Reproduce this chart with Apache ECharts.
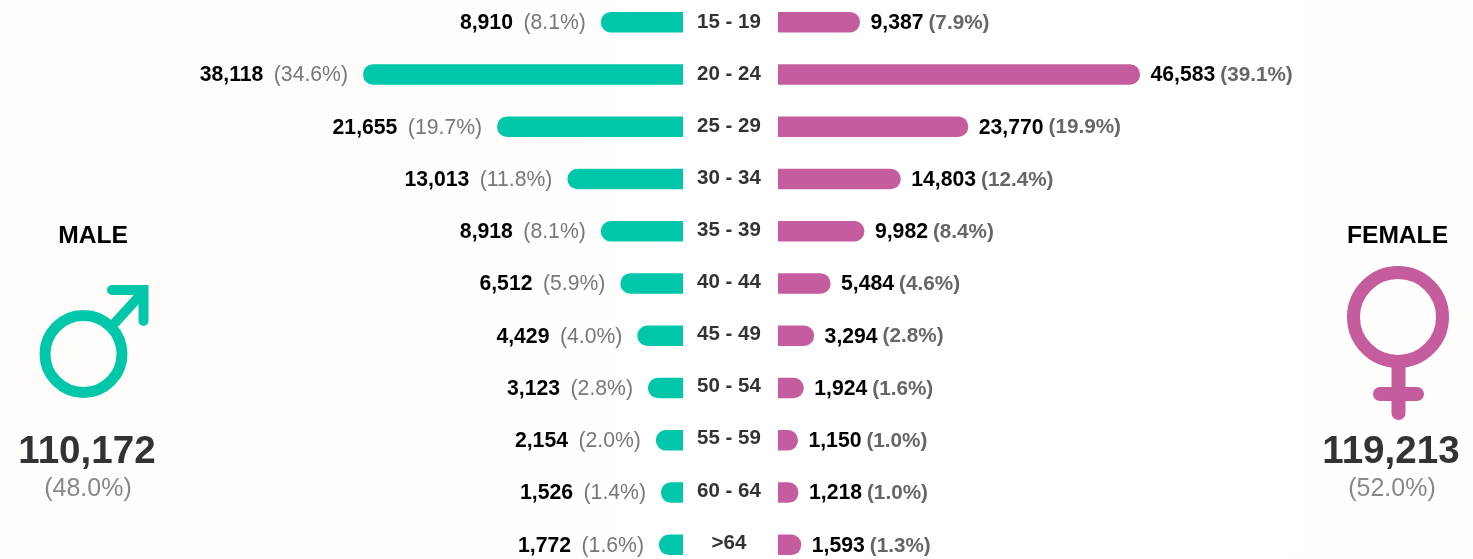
<!DOCTYPE html>
<html><head><meta charset="utf-8">
<style>html,body{margin:0;padding:0;width:1473px;height:559px;overflow:hidden;background:#fff}#c{width:1473px;height:559px}</style>
<script src="https://cdn.jsdelivr.net/npm/echarts@6/dist/echarts.min.js"></script>
</head><body><div id="c"></div>
<script>
const ages = ['15 - 19','20 - 24','25 - 29','30 - 34','35 - 39','40 - 44','45 - 49','50 - 54','55 - 59','60 - 64','>64'];
const maleCounts = [8910,38118,21655,13013,8918,6512,4429,3123,2154,1526,1772];
const malePct = ['8.1%','34.6%','19.7%','11.8%','8.1%','5.9%','4.0%','2.8%','2.0%','1.4%','1.6%'];
const femaleCounts = [9387,46583,23770,14803,9982,5484,3294,1924,1150,1218,1593];
const femalePct = ['7.9%','39.1%','19.9%','12.4%','8.4%','4.6%','2.8%','1.6%','1.0%','1.0%','1.3%'];

const FONT = '"Liberation Sans", Arial, sans-serif';
const TEAL = '#00C7AA', PINK = '#C45C9E';
const fmt = n => n.toLocaleString('en-US');

function barSeries(idx, counts, pct, color, side, axisStart) {
  return {
    type: 'custom', xAxisIndex: idx, yAxisIndex: idx, clip: false, silent: true,
    data: counts.map((v, i) => [v, i]),
    encode: { x: 0, y: 1 },
    renderItem(params, api) {
      const v = api.value(0), i = api.value(1);
      const start = api.coord([axisStart, i]), end = api.coord([v, i]);
      const h = 20.5, male = side === 'm';
      const x = Math.min(start[0], end[0]), w = Math.abs(end[0] - start[0]);
      return { type: 'group', children: [
        { type: 'rect',
          shape: { x, y: start[1] - h / 2, width: w, height: h, r: male ? [10,0,0,10] : [0,10,10,0] },
          style: { fill: color } },
        { type: 'text',
          style: male ? {
            x: end[0] - 15, y: start[1] + 1, align: 'right', verticalAlign: 'middle',
            text: `{v|${fmt(v)}}{p|(${pct[i]})}`,
            rich: {
              v: { font: `bold 21.2px ${FONT}`, fill: '#000', padding: [0,10.5,0,0] },
              p: { font: `21.2px ${FONT}`, fill: '#777' }
            }
          } : {
            x: end[0] + 10.5, y: start[1] + 1, align: 'left', verticalAlign: 'middle',
            text: `{v|${fmt(v)}}{p|(${pct[i]})}`,
            rich: {
              v: { font: `bold 21.2px ${FONT}`, fill: '#000', padding: [0,5,0,0] },
              p: { font: `bold 20.7px ${FONT}`, fill: '#666' }
            }
          }
        }
      ]};
    }
  };
}

function label(text, x, y, font, fill) {
  return { type: 'text', x, y, silent: true,
    style: { text, font, fill, align: 'center', verticalAlign: 'middle' } };
}

const chart = echarts.init(document.getElementById('c'), null, { renderer: 'canvas' });
const maleMin = -1180, femaleMin = -1500;
const cat = extra => Object.assign({
  type: 'category', data: ages, inverse: true,
  axisLine: { show: false }, axisTick: { show: false }, axisLabel: { show: false }
}, extra);
const val = extra => Object.assign({ type: 'value', show: false, splitLine: { show: false } }, extra);

chart.setOption({
  animation: false,
  backgroundColor: {
    type: 'linear', x: 0, y: 0, x2: 1, y2: 0,
    colorStops: [
      { offset: 0, color: '#FFFDFA' }, { offset: 0.2, color: '#FFFDFB' },
      { offset: 0.45, color: '#FFFFFF' }, { offset: 0.85, color: '#FFFFFF' },
      { offset: 1, color: '#FFFEFD' }
    ]
  },
  grid: [
    { left: 363, width: 320, top: -4, height: 575, outerBoundsMode: 'none' },
    { left: 778, width: 362, top: -4, height: 575, outerBoundsMode: 'none' },
    { left: 729, width: 1, top: -4, height: 573, outerBoundsMode: 'none' }
  ],
  xAxis: [
    val({ gridIndex: 0, inverse: true, min: maleMin, max: 38118 }),
    val({ gridIndex: 1, min: femaleMin, max: 46583 }),
    val({ gridIndex: 2, min: 0, max: 1 })
  ],
  yAxis: [
    cat({ gridIndex: 0 }),
    cat({ gridIndex: 1 }),
    cat({ gridIndex: 2, axisLabel: {
      show: true, margin: 0, align: 'center', interval: 0,
      fontFamily: FONT, fontWeight: 'bold', fontSize: 20.5, color: '#333'
    } })
  ],
  series: [
    barSeries(0, maleCounts, malePct, TEAL, 'm', maleMin),
    barSeries(1, femaleCounts, femalePct, PINK, 'f', femaleMin)
  ],
  graphic: [
    label('MALE', 93, 236, `bold 24.6px ${FONT}`, '#000'),
    { type: 'circle', silent: true, shape: { cx: 83.5, cy: 354, r: 38.5 },
      style: { fill: 'transparent', stroke: TEAL, lineWidth: 11 } },
    { type: 'polyline', silent: true, shape: { points: [[113,325],[144,291]] },
      style: { fill: 'none', stroke: TEAL, lineWidth: 10 } },
    { type: 'polyline', silent: true, shape: { points: [[112,290],[143.5,290],[143.5,321]] },
      style: { fill: 'none', stroke: TEAL, lineWidth: 10, lineCap: 'round', lineJoin: 'miter' } },
    label('110,172', 87, 452.5, `bold 38.6px ${FONT}`, '#333'),
    label('(48.0%)', 88, 489, `25px ${FONT}`, '#888'),

    label('FEMALE', 1397.5, 236, `bold 24.6px ${FONT}`, '#000'),
    { type: 'circle', silent: true, shape: { cx: 1398, cy: 317, r: 44.5 },
      style: { fill: 'transparent', stroke: PINK, lineWidth: 13 } },
    { type: 'polyline', silent: true, shape: { points: [[1398.5,365],[1398.5,413]] },
      style: { fill: 'none', stroke: PINK, lineWidth: 14, lineCap: 'round' } },
    { type: 'polyline', silent: true, shape: { points: [[1380,394],[1417,394]] },
      style: { fill: 'none', stroke: PINK, lineWidth: 14, lineCap: 'round' } },
    label('119,213', 1391, 452.5, `bold 38.6px ${FONT}`, '#333'),
    label('(52.0%)', 1392, 489, `25px ${FONT}`, '#888')
  ]
});
</script></body></html>
